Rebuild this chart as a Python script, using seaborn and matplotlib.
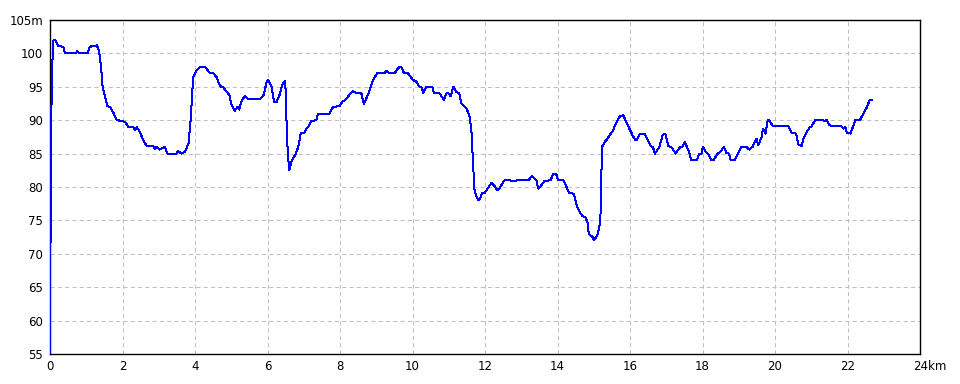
import matplotlib
matplotlib.use("Agg")
import matplotlib.pyplot as plt
import matplotlib.transforms as mtransforms
import seaborn as sns
import pandas as pd

distance_km = [0.00, 0.01, 0.03, 0.05, 0.09, 0.14, 0.23, 0.37, 0.41, 0.72, 0.75, 0.81, 1.03, 1.10, 1.29, 1.35,
    1.41, 1.45, 1.52, 1.58, 1.66, 1.75, 1.84, 1.98, 2.07, 2.16, 2.30, 2.34, 2.39, 2.48, 2.57, 2.67,
    2.85, 2.90, 2.94, 3.02, 3.17, 3.24, 3.48, 3.54, 3.63, 3.72, 3.82, 3.88, 3.95, 4.05, 4.14, 4.28,
    4.40, 4.51, 4.60, 4.69, 4.78, 4.95, 5.01, 5.10, 5.17, 5.22, 5.29, 5.38, 5.47, 5.79, 5.89, 5.98,
    6.02, 6.11, 6.18, 6.25, 6.33, 6.42, 6.49, 6.53, 6.56, 6.60, 6.67, 6.76, 6.85, 6.92, 7.01, 7.07,
    7.13, 7.21, 7.35, 7.39, 7.71, 7.81, 7.99, 8.06, 8.16, 8.25, 8.36, 8.45, 8.59, 8.66, 8.82, 8.91,
    9.02, 9.23, 9.28, 9.37, 9.51, 9.56, 9.65, 9.69, 9.76, 9.88, 10.02, 10.11, 10.18, 10.25, 10.29,
    10.38, 10.55, 10.59, 10.75, 10.87, 10.93, 11.00, 11.05, 11.13, 11.21, 11.29, 11.35, 11.49, 11.58,
    11.63, 11.67, 11.71, 11.76, 11.81, 11.85, 11.90, 11.93, 11.99, 12.08, 12.18, 12.27, 12.34, 12.41,
    12.50, 12.55, 12.69, 12.82, 12.89, 13.19, 13.30, 13.38, 13.42, 13.47, 13.52, 13.64, 13.81, 13.88,
    13.96, 14.02, 14.17, 14.25, 14.32, 14.45, 14.54, 14.63, 14.70, 14.77, 14.83, 14.86, 14.91, 14.95,
    15.00, 15.05, 15.12, 15.17, 15.20, 15.21, 15.23, 15.30, 15.35, 15.44, 15.53, 15.60, 15.70, 15.82,
    15.87, 15.96, 16.07, 16.15, 16.18, 16.28, 16.40, 16.49, 16.58, 16.63, 16.69, 16.81, 16.90, 16.97,
    17.06, 17.14, 17.26, 17.37, 17.44, 17.51, 17.57, 17.63, 17.69, 17.85, 17.90, 17.97, 18.01, 18.09,
    18.15, 18.24, 18.31, 18.40, 18.49, 18.59, 18.66, 18.73, 18.78, 18.89, 18.98, 19.07, 19.21, 19.29,
    19.38, 19.44, 19.49, 19.54, 19.63, 19.67, 19.74, 19.80, 19.84, 19.94, 20.37, 20.46, 20.58, 20.64,
    20.74, 20.78, 20.88, 20.95, 21.01, 21.11, 21.29, 21.38, 21.43, 21.48, 21.57, 21.82, 21.89, 21.94,
    21.98, 22.08, 22.15, 22.21, 22.35, 22.44, 22.54, 22.61, 22.68]

elevation_m = [55, 68, 86.6, 96.5, 101.9, 102, 101.1, 101, 100.1, 100, 100.3, 100, 100, 101, 101.2, 100.5,
    98, 95, 93.5, 92.1, 92, 91.1, 90, 89.9, 89.75, 89, 89, 88.5, 89, 88.25, 87, 86.1,
    86.1, 85.65, 86, 85.6, 86, 85, 85, 85.35, 85, 85.25, 86.5, 90, 96.5, 97.5, 98, 98,
    97.1, 97, 96.4, 95.1, 94.9, 93.75, 92.25, 91.4, 92, 91.6, 93, 93.6, 93.1, 93.1, 93.75, 95.75,
    96, 95.1, 92.75, 92.75, 93.75, 95.5, 95.85, 89, 85, 82.5, 84, 84.75, 86, 88.1, 88.1, 88.75,
    89, 89.9, 90, 91, 91, 92, 92.1, 92.75, 93.1, 93.75, 94.35, 94.1, 94, 92.4, 94.5, 96,
    97, 97, 97.4, 97, 97, 97.5, 98, 98, 97.1, 97, 96, 95.75, 95.1, 94.9, 94.1,
    95, 95, 94.1, 94, 93, 94, 94, 93.6, 95, 94.25, 94, 92.5, 91.75, 90.5,
    88, 83.5, 79.6, 78.6, 78.1, 78.1, 78.85, 79.1, 79.1, 79.85, 80.6, 80.1, 79.5, 79.85,
    80.75, 81, 81, 80.85, 81, 81, 81.65, 81.15, 81, 79.75, 80, 80.9, 81, 82,
    82, 81, 81, 80, 79.1, 79, 77, 76.1, 75.6, 75.5, 74.6, 73.1, 72.7, 72.7,
    72.1, 72.35, 73.1, 74.6, 77.1, 81.75, 86, 86.75, 87, 87.75, 88.4, 89.4, 90.5, 90.75,
    90, 89, 87.75, 87, 87, 88, 88, 87, 86.1, 86, 85, 86, 87.75, 88,
    86.1, 86, 85, 85.9, 86, 86.75, 86, 85.25, 84, 84, 84.9, 85, 86, 85.25,
    85, 84, 84, 84.9, 85.25, 86, 85.1, 85, 84, 84, 85, 86, 86, 85.6,
    86, 86.75, 87.25, 86.25, 87.5, 88.75, 88, 90, 90, 89.1, 89.1, 88.1, 88, 86.4,
    86.1, 87.25, 88.25, 88.9, 89.1, 90, 90, 89.9, 90, 89.4, 89.1, 89.1, 88.75, 89,
    88.1, 88, 89, 90, 90.1, 91, 92, 93, 93]

x_ticks = [0, 2, 4, 6, 8, 10, 12, 14, 16, 18, 20, 22, 24]
x_tick_labels = ["0", "2", "4", "6", "8", "10", "12", "14", "16", "18", "20", "22", "24km"]
y_ticks = [55, 60, 65, 70, 75, 80, 85, 90, 95, 100, 105]
y_tick_labels = ["55", "60", "65", "70", "75", "80", "85", "90", "95", "100", "105m"]

df = pd.DataFrame({"km": distance_km, "m": elevation_m})

sns.set_style("white")
plt.rcParams["font.family"] = ["DejaVu Sans"]

fig = plt.figure(figsize=(9.6, 3.84), dpi=100)
ax = fig.add_axes([50 / 960, 30 / 384, 870 / 960, 334 / 384])

sns.lineplot(data=df, x="km", y="m", ax=ax, sort=False, estimator=None,
             color="#0000ff", linewidth=0.72, antialiased=False, zorder=3)

ax.set_xlim(0, 24)
ax.set_ylim(55, 105)
ax.set_xticks(x_ticks)
ax.set_xticklabels(x_tick_labels)
ax.set_yticks(y_ticks)
ax.set_yticklabels(y_tick_labels)
ax.set_xlabel("")
ax.set_ylabel("")
ax.tick_params(axis="both", length=0, labelsize=8.5, colors="black")
ax.tick_params(axis="x", pad=4)
ax.tick_params(axis="y", pad=5)

ax.grid(True, color="#c0c0c0", linestyle=(0, (4, 3)), linewidth=0.75)
ax.set_axisbelow(True)
for s in ax.spines.values():
    s.set_visible(True)
    s.set_color("black")
    s.set_linewidth(1.0)

# "24km": keep the number centred on its gridline
lbl = ax.get_xticklabels()[-1]
lbl.set_horizontalalignment("left")
lbl.set_transform(lbl.get_transform() + mtransforms.ScaledTranslation(-5 / 72, 0, fig.dpi_scale_trans))

fig.savefig("out.png", dpi=100)
